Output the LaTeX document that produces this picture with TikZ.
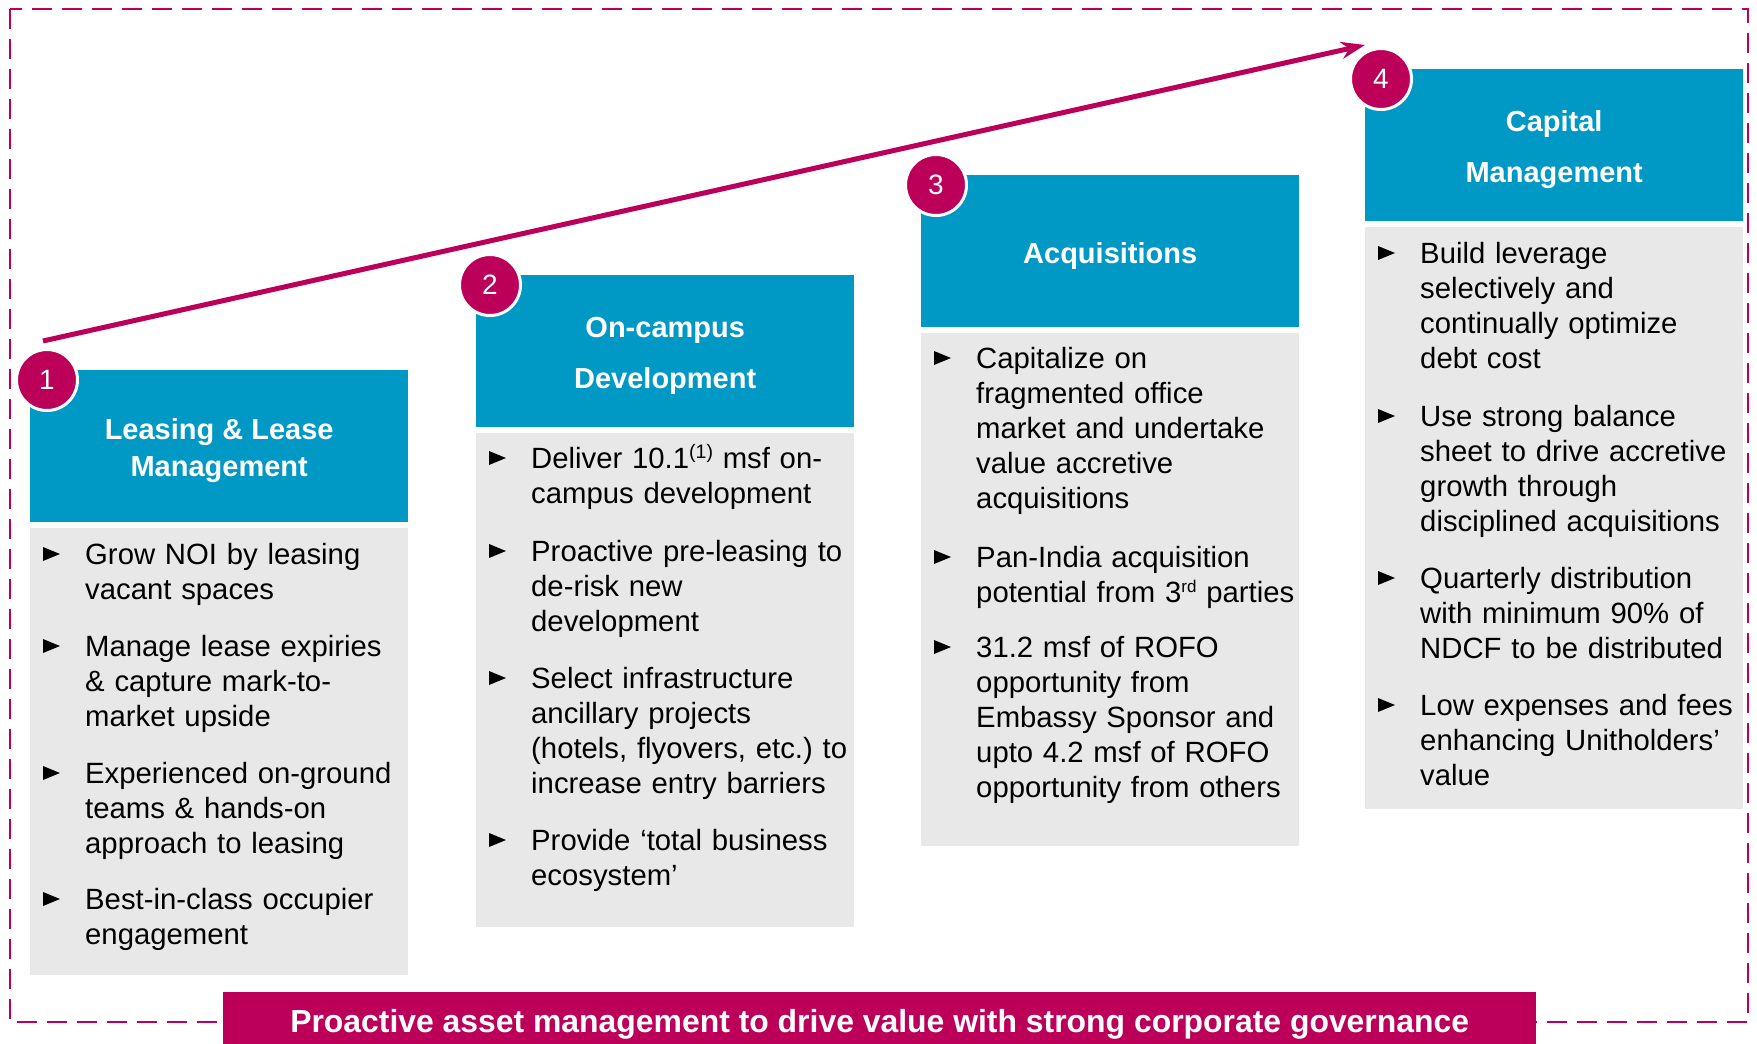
\documentclass[tikz,border=0pt]{standalone}
\usepackage{fontspec}
\setmainfont{Liberation Sans}
\usetikzlibrary{arrows.meta}
\definecolor{tblue}{RGB}{0,152,196}
\definecolor{tmag}{RGB}{188,0,90}
\definecolor{tgray}{RGB}{232,232,232}
\frenchspacing
\tikzset{
  hdr/.style={fill=tblue, minimum width=378pt, minimum height=152pt, inner sep=0pt, text=white, align=center, anchor=north west},
  hdrA/.style={hdr, font=\bfseries\fontsize{29}{37}\selectfont},
  hdrB/.style={hdr, font=\bfseries\fontsize{29}{51.5}\selectfont},
  bodybox/.style={fill=tgray, minimum width=378pt, inner sep=0pt, anchor=north west},
  item/.style={anchor=base west, text width=380pt, align=left, inner sep=0pt, font=\fontsize{29.3}{35}\selectfont},
  num/.style={circle, fill=tmag, draw=white, line width=3pt, minimum size=61pt, inner sep=0pt, text=white, font=\fontsize{28}{28}\selectfont},
  bar/.style={fill=tmag, minimum width=1313pt, minimum height=64pt, inner sep=0pt, text=white, anchor=north west, font=\bfseries\fontsize{31.9}{36}\selectfont},
  frame/.style={draw=tmag, line width=2.5pt, dash pattern=on 20pt off 10pt},
  rise/.style={draw=tmag, line width=5pt, -{Stealth[length=24pt, width=17pt]}}
}
\newcommand{\bult}[1]{\fill[black] ([shift={(-42,-3)}]#1.base west) -- ++(0,-14) -- ++(17,7) -- cycle;}
\newcommand{\hstrut}{\rule{0pt}{30pt}}
\newcommand{\supr}[3]{\raisebox{#1}{\fontsize{#2}{#2}\selectfont #3}}
\begin{document}
\begin{tikzpicture}[x=1pt, y=-1pt]
\useasboundingbox (0,0) rectangle (1757,1044);
\clip (0,0) rectangle (1757,1044);
% frame
\draw[frame] (10,9) rectangle (1748,1022);
% rising arrow
\coordinate (as) at (43,341);
\coordinate (ae) at (1365,45);
\draw[rise] (as) -- (ae);
% box 1
\node[hdrA] (h1) at (30,370) {\hstrut Leasing \& Lease\\Management};
\node[bodybox, minimum height=447pt] (g1) at (30,528) {};
\node[item] (i1a) at (85,564) {Grow NOI by leasing\\vacant spaces};
\node[item] (i1b) at (85,656) {Manage lease expiries\\\& capture mark-to-\\market upside};
\node[item] (i1c) at (85,783) {Experienced on-ground\\teams \& hands-on\\approach to leasing};
\node[item] (i1d) at (85,909) {Best-in-class occupier\\engagement};
% box 2
\node[hdrB] (h2) at (476,275) {\hstrut On-campus\\Development};
\node[bodybox, minimum height=494pt] (g2) at (476,433) {};
\node[item] (i2a) at (531,468) {Deliver 10.1\supr{10pt}{19.5}{(1)} msf on-\\campus development};
\node[item] (i2b) at (531,561) {Proactive pre-leasing to\\de-risk new\\development};
\node[item] (i2c) at (531,688) {Select infrastructure\\ancillary projects\\(hotels, flyovers, etc.) to\\increase entry barriers};
\node[item] (i2d) at (531,850) {Provide ‘total business\\ecosystem’};
% box 3
\node[hdrB] (h3) at (921,175) {\hstrut Acquisitions};
\node[bodybox, minimum height=513pt] (g3) at (921,333) {};
\node[item] (i3a) at (976,368) {Capitalize on\\fragmented office\\market and undertake\\value accretive\\acquisitions};
\node[item] (i3b) at (976,567) {Pan-India acquisition\\potential from 3\supr{10pt}{17}{rd} parties};
\node[item] (i3c) at (976,657) {31.2 msf of ROFO\\opportunity from\\Embassy Sponsor and\\upto 4.2 msf of ROFO\\opportunity from others};
% box 4
\node[hdrB] (h4) at (1365,69) {\hstrut Capital\\Management};
\node[bodybox, minimum height=582pt] (g4) at (1365,227) {};
\node[item] (i4a) at (1420,263) {Build leverage\\selectively and\\continually optimize\\debt cost};
\node[item] (i4b) at (1420,426) {Use strong balance\\sheet to drive accretive\\growth through\\disciplined acquisitions};
\node[item] (i4c) at (1420,588) {Quarterly distribution\\with minimum 90\% of\\NDCF to be distributed};
\node[item] (i4d) at (1420,715) {Low expenses and fees\\enhancing Unitholders’\\value};
% bullets
\foreach \n in {i1a,i1b,i1c,i1d,i2a,i2b,i2c,i2d,i3a,i3b,i3c,i4a,i4b,i4c,i4d}{\bult{\n}}
% numbers
\node[num] (n1) at (47,380) {1};
\node[num] (n2) at (490,285) {2};
\node[num] (n3) at (936,185) {3};
\node[num] (n4) at (1381,79) {4};
% bottom bar
\node[bar] (gov) at (223,992) {Proactive asset management to drive value with strong corporate governance};
\end{tikzpicture}
\end{document}
